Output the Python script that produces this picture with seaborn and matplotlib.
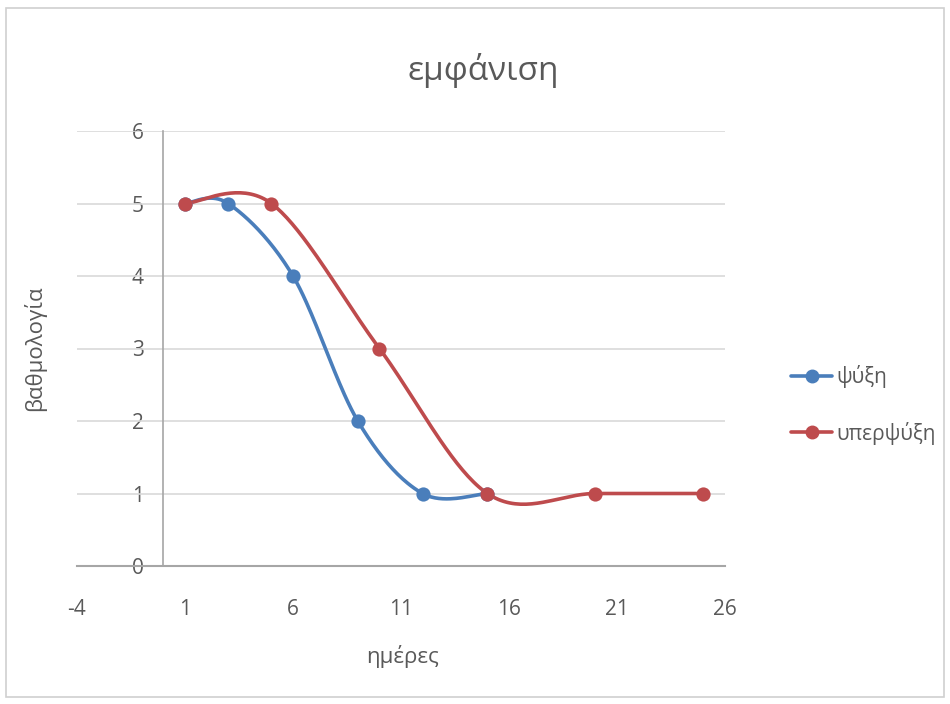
import numpy as np
import pandas as pd
import matplotlib
matplotlib.use("Agg")
import matplotlib.pyplot as plt
import matplotlib.patches as mpatches
from matplotlib.lines import Line2D
import seaborn as sns

# ---- data ----
x_psyxi = [1, 3, 6, 9, 12, 15]
y_psyxi = [5, 5, 4, 2, 1, 1]
x_hyper = [1, 5, 10, 15, 20, 25]
y_hyper = [5, 5, 3, 1, 1, 1]
series_names = ["ψύξη", "υπερψύξη"]
colors = ["#4a7ebb", "#be4b4d"]
x_ticks = [-4, 1, 6, 11, 16, 21, 26]
y_ticks = [0, 1, 2, 3, 4, 5, 6]

sns.set_theme(style="white")
plt.rcParams['font.family'] = ['Open Sans', 'DejaVu Sans']
plt.rcParams['axes.unicode_minus'] = False
TXT = "#595959"


def smooth(xs, ys, n=40):
    """Excel-like smoothed line: Catmull-Rom via cubic Bezier segments."""
    P = np.column_stack([xs, ys]).astype(float)
    out = []
    for i in range(len(P) - 1):
        p0 = P[i - 1] if i > 0 else P[i]
        p1 = P[i]
        p2 = P[i + 1]
        p3 = P[i + 2] if i + 2 < len(P) else P[i + 1]
        c1 = p1 + (p2 - p0) / 6.0
        c2 = p2 - (p3 - p1) / 6.0
        t = np.linspace(0, 1, n)[:, None]
        seg = ((1 - t) ** 3) * p1 + 3 * ((1 - t) ** 2) * t * c1 + 3 * (1 - t) * t ** 2 * c2 + t ** 3 * p2
        out.append(seg if i == 0 else seg[1:])
    s = np.vstack(out)
    return s[:, 0], s[:, 1]


fig = plt.figure(figsize=(9.5, 7.04), dpi=100)
fig.patch.set_facecolor("white")
fig.patches.append(mpatches.Rectangle((6 / 950, 7 / 704), 938 / 950, 689 / 704,
                                      transform=fig.transFigure, fill=False,
                                      edgecolor="#d0d0d0", linewidth=1.2))

ax = fig.add_axes([77 / 950, 1 - 566 / 704, (725 - 77) / 950, (566 - 131) / 704])
ax.set_facecolor("none")

for (xs, ys), name, c in zip([(x_psyxi, y_psyxi), (x_hyper, y_hyper)], series_names, colors):
    sx, sy = smooth(xs, ys)
    df_line = pd.DataFrame({"x": sx, "y": sy})
    sns.lineplot(data=df_line, x="x", y="y", sort=False, color=c, linewidth=2.6, ax=ax, zorder=3)
    df_pts = pd.DataFrame({"x": xs, "y": ys})
    sns.scatterplot(data=df_pts, x="x", y="y", color=c, s=105, edgecolor=c, linewidth=0, ax=ax, zorder=4)

ax.set_xlim(-4, 26)
ax.set_ylim(0, 6)
ax.set_xticks(x_ticks)
ax.set_yticks(y_ticks)
for yv in y_ticks[1:]:
    ax.axhline(yv, color="#d9d9d9", linewidth=1.2, zorder=1)

for s in ["top", "right"]:
    ax.spines[s].set_visible(False)
ax.spines["left"].set_position(("data", 0))
ax.spines["left"].set_color("#a6a6a6")
ax.spines["left"].set_linewidth(1.2)
ax.spines["bottom"].set_color("#a6a6a6")
ax.spines["bottom"].set_linewidth(1.5)
ax.tick_params(axis="y", length=0, pad=14, labelsize=15, labelcolor=TXT)
ax.tick_params(axis="x", length=0, pad=24, labelsize=15, labelcolor=TXT)
ax.set_xlabel("")
ax.set_ylabel("")

fig.text(483 / 950, 1 - 70 / 704, "εμφάνιση", ha="center", va="center", fontsize=24, color=TXT)
fig.text(403 / 950, 1 - 657 / 704, "ημέρες", ha="center", va="center", fontsize=16, color=TXT)
fig.text(35 / 950, 1 - 348 / 704, "βαθμολογία", ha="center", va="center", rotation=90, fontsize=16, color=TXT)

handles = [Line2D([0], [0], color=c, linewidth=2.6, marker="o", markersize=9) for c in colors]
fig.legend(handles, series_names, loc="center left", bbox_to_anchor=(772 / 950, 1 - 405 / 704),
           frameon=False, fontsize=15, labelcolor=TXT, handlelength=2.0, handletextpad=0.2,
           labelspacing=1.6)

fig.savefig("out.png", dpi=100)
